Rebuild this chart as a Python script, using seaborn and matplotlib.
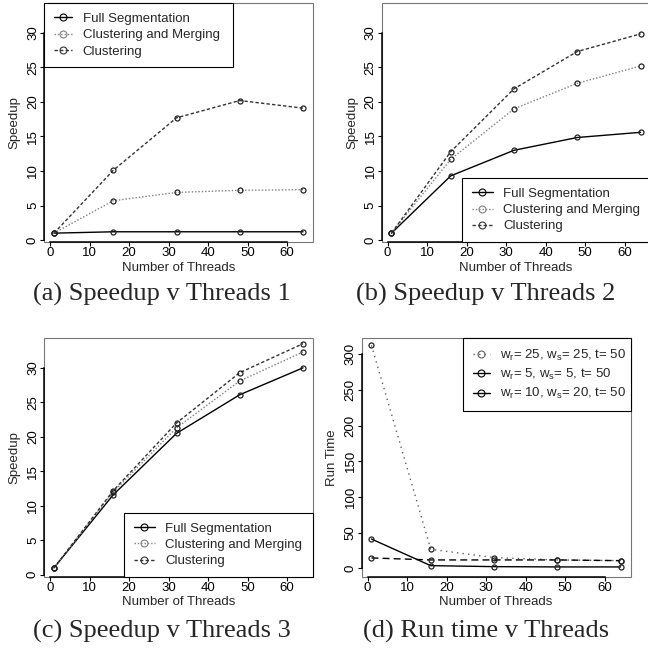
import matplotlib
matplotlib.use("Agg")
import matplotlib.pyplot as plt
import seaborn as sns
import pandas as pd
from matplotlib.lines import Line2D
from matplotlib.patches import Rectangle

# ---------------- data ----------------
threads = [1, 16, 32, 48, 64]

a_full = [1.0, 1.2, 1.2, 1.2, 1.2]
a_cm = [1.0, 5.7, 6.9, 7.2, 7.3]
a_cl = [1.0, 10.1, 17.7, 20.2, 19.1]

b_full = [1.0, 9.3, 13.0, 14.85, 15.6]
b_cm = [1.0, 11.7, 19.0, 22.7, 25.2]
b_cl = [1.0, 12.8, 21.9, 27.3, 29.85]

c_full = [1.0, 11.6, 20.5, 26.1, 30.0]
c_cm = [1.0, 12.0, 21.3, 28.1, 32.3]
c_cl = [1.0, 12.2, 22.0, 29.3, 33.5]

d_w25 = [312.6, 26.6, 15.0, 11.7, 10.7]
d_w5 = [41.0, 3.7, 2.3, 1.9, 1.9]
d_w10 = [14.5, 11.7, 11.7, 11.7, 10.7]

speed_labels = ["Full Segmentation", "Clustering and Merging", "Clustering"]
run_labels = [r"w$_r$= 25, w$_s$= 25, t= 50",
              r"w$_r$= 5, w$_s$= 5, t= 50",
              r"w$_r$= 10, w$_s$= 20, t= 50"]
captions = ["(a) Speedup v Threads 1", "(b) Speedup v Threads 2",
            "(c) Speedup v Threads 3", "(d) Run time v Threads"]
x_ticks = [0, 10, 20, 30, 40, 50, 60]
speed_ticks = [0, 5, 10, 15, 20, 25, 30]
run_ticks = [0, 50, 100, 150, 200, 250, 300]
x_label = "Number of Threads"
speed_label = "Speedup"
run_label = "Run Time"

# ---------------- style ----------------
sns.set_style("white")
plt.rcParams["font.family"] = ["Liberation Sans", "DejaVu Sans"]
plt.rcParams["mathtext.default"] = "regular"

W, H = 648, 649
FS = 9.5

SOLID = dict(color="black", linestyle="-")
DOTTED = dict(color="#808080", linestyle=(0, (1, 1.4)))
DASHED = dict(color="#333333", linestyle=(0, (2.4, 1.6)))
LONGDOT = dict(color="#606060", linestyle=(0, (1, 3)))
LONGDASH = dict(color="black", linestyle=(0, (5, 3)))


def pos(left, top, right, bottom):
    return [left / W, 1 - bottom / H, (right - left) / W, (bottom - top) / H]


fig = plt.figure(figsize=(W / 100, H / 100), dpi=100)


def setup_axes(ax, ylim, yticks, ylabel):
    ax.set_xlim(-1.52, 66.52)
    ax.set_ylim(*ylim)
    ax.set_xticks(x_ticks)
    ax.set_yticks(yticks)
    ax.set_xticklabels([str(t) for t in x_ticks])
    ax.set_yticklabels([str(t) for t in yticks], rotation=90, va="center")
    for s in ["top", "right"]:
        ax.spines[s].set_visible(False)
    for s in ["left", "bottom"]:
        ax.spines[s].set_color("black")
        ax.spines[s].set_linewidth(1.1)
    ax.spines["bottom"].set_bounds(x_ticks[0], x_ticks[-1])
    ax.spines["left"].set_bounds(yticks[0], yticks[-1])
    ax.add_patch(Rectangle((0, 0), 1, 1, transform=ax.transAxes, fill=False,
                           ec="#777777", lw=0.8, clip_on=False, zorder=0))
    ax.tick_params(direction="out", length=2.6, width=0.8, colors="black",
                   labelsize=FS, pad=1.0, left=True, bottom=True)
    ax.set_xlabel(x_label, fontsize=FS)
    ax.set_ylabel(ylabel, fontsize=FS)
    ax.xaxis.label.set_va("center")
    ax.yaxis.label.set_va("center")
    ax.xaxis.set_label_coords(0.5, -25.5 / 238.5)
    ax.yaxis.set_label_coords(-29.5 / 269, 0.5)
    ax.grid(False)


def draw(ax, ys, styles):
    for y, st in zip(ys, styles):
        sns.lineplot(x=threads, y=y, ax=ax, lw=1.0, marker="o", markersize=3.6,
                     markerfacecolor="none", markeredgecolor="#222222",
                     markeredgewidth=0.9, legend=False, **st)


def handles(styles):
    return [Line2D([], [], lw=1.0, marker="o", markersize=5, markerfacecolor="none",
                   markeredgecolor=st["color"], markeredgewidth=0.8, **st)
            for st in styles]


def add_legend(ax, hs, labels, loc, anchor, hl=1.4, htp=0.8):
    leg = ax.legend(hs, labels, loc=loc, bbox_to_anchor=anchor, mode="expand",
                    borderaxespad=0, frameon=True, fancybox=False,
                    edgecolor="black", framealpha=1, fontsize=FS,
                    handlelength=hl, handletextpad=htp, labelspacing=0.31,
                    borderpad=0.72)
    leg.get_frame().set_linewidth(0.8)
    return leg


speed_styles = [SOLID, DOTTED, DASHED]
speed_ylim = (-0.28, 34.28)

ax_a = fig.add_axes(pos(44, 3.3, 313, 242))
draw(ax_a, [a_full, a_cm, a_cl], speed_styles)
setup_axes(ax_a, speed_ylim, speed_ticks, speed_label)
add_legend(ax_a, handles(speed_styles), speed_labels, "upper left",
           (0, 1, 189 / 269, 0))

ax_b = fig.add_axes(pos(381.5, 3.3, 650.5, 242))
draw(ax_b, [b_full, b_cm, b_cl], speed_styles)
setup_axes(ax_b, speed_ylim, speed_ticks, speed_label)
add_legend(ax_b, handles(speed_styles), speed_labels, "lower right",
           (80.5 / 269, 0, 1 - 80.5 / 269, 0), hl=1.6, htp=0.8)

ax_c = fig.add_axes(pos(44, 338.3, 313, 576.7))
draw(ax_c, [c_full, c_cm, c_cl], speed_styles)
setup_axes(ax_c, speed_ylim, speed_ticks, speed_label)
add_legend(ax_c, handles(speed_styles), speed_labels, "lower right",
           (80 / 269, 0, 1 - 80 / 269, 0), hl=1.6, htp=0.8)

ax_d = fig.add_axes(pos(361.5, 338.3, 630.5, 576.7))
draw(ax_d, [d_w25, d_w5, d_w10], [LONGDOT, SOLID, LONGDASH])
setup_axes(ax_d, (-11.8, 322.4), run_ticks, run_label)
add_legend(ax_d, handles([LONGDOT, SOLID, SOLID]), run_labels, "upper left",
           (101.5 / 269, 1, 1 - 101.5 / 269, 0), hl=1.3, htp=0.8)

cap_kw = dict(ha="center", va="center", fontsize=19,
              family=["Liberation Serif", "DejaVu Serif"])
fig.text(0.25, 1 - 294 / H, captions[0], **cap_kw)
fig.text(0.75, 1 - 294 / H, captions[1], **cap_kw)
fig.text(0.25, 1 - 631 / H, captions[2], **cap_kw)
fig.text(0.75, 1 - 631 / H, captions[3], **cap_kw)

fig.savefig("out.png", dpi=100)
